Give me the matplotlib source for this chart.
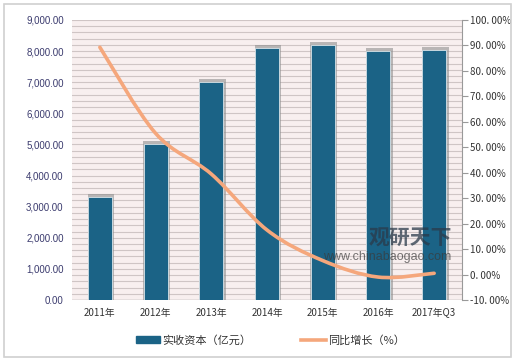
import numpy as np
import matplotlib.pyplot as plt
from matplotlib.path import Path
from matplotlib.patches import PathPatch, Rectangle
from matplotlib.lines import Line2D

plt.rcParams['font.family'] = ['Noto Sans CJK SC', 'DejaVu Sans']

# ___ datos
categorias = ['2011年', '2012年', '2013年', '2014年', '2015年', '2016年', '2017年Q3']
capital = [3310, 5005, 7000, 8090, 8200, 8010, 8040]      # 实收资本（亿元）
crecimiento = [89.3, 55.5, 39.5, 17.5, 5.5, -1.0, 0.5]    # 同比增长（%）

fig = plt.figure(figsize=(5.2, 3.64), dpi=100)
fig.patch.set_facecolor('white')
# marco de la figura
fig.add_artist(Rectangle((4 / 520, 7 / 364), 507 / 520, 353 / 364, transform=fig.transFigure,
                         fill=False, edgecolor='#d0d0d0', linewidth=1.2))

ax = fig.add_axes([72 / 520, 64 / 364, 390 / 520, 280 / 364])
ax.set_facecolor('#f8efef')
ax.set_xlim(-0.5, len(categorias) - 0.5)
ax.set_ylim(0, 9000)
ax.set_yticks(np.arange(0, 9001, 1000))
ax.set_yticklabels([f'{v:,.2f}' for v in np.arange(0, 9001, 1000)],
                   fontsize=7, color='#3b3b6e', family=['Liberation Sans', 'DejaVu Sans'])
for yy in np.arange(200, 9001, 200):
    ax.axhline(yy, color='#cfc5c5', linewidth=0.8, zorder=0)
ax.axhline(0, color='#a0a0a0', linewidth=1, zorder=1)

x = np.arange(len(categorias))
# sombra de las barras
ax.bar(x + 0.02, np.array(capital) + 100, width=0.48, color='#8f8f8f', alpha=0.6, zorder=2)
ax.bar(x, capital, width=0.43, color='#1b6386', edgecolor='#d8e4ea', linewidth=0.6, zorder=3)

ax.set_xticks(x)
ax.set_xticklabels(categorias, fontsize=7, color='#333333', family=['Noto Sans CJK SC'])
ax.tick_params(axis='both', length=0, pad=6)
for s in ax.spines.values():
    s.set_visible(False)

ax2 = ax.twinx()
ax2.set_ylim(-10, 100)
ax2.set_yticks(np.arange(-10, 101, 10))
ax2.set_yticklabels([f'{v:.2f}%'.replace('.', '. ') for v in np.arange(-10, 101, 10)],
                    fontsize=7, color='#333333', family=['Noto Sans CJK SC', 'DejaVu Sans'])
ax2.tick_params(axis='y', length=4, color='#999999', pad=2)
for s in ['top', 'left', 'bottom']:
    ax2.spines[s].set_visible(False)
ax2.spines['right'].set_color('#999999')

# linea suavizada (curvas de Bezier tipo Catmull-Rom)
pts = np.column_stack([x, crecimiento]).astype(float)
verts = [pts[0]]
codes = [Path.MOVETO]
t = 1 / 6
for i in range(len(pts) - 1):
    p0 = pts[i - 1] if i > 0 else pts[i]
    p1, p2 = pts[i], pts[i + 1]
    p3 = pts[i + 2] if i + 2 < len(pts) else pts[i + 1]
    verts += [p1 + (p2 - p0) * t, p2 - (p3 - p1) * t, p2]
    codes += [Path.CURVE4] * 3
ax2.add_patch(PathPatch(Path(verts, codes), fill=False, edgecolor='#f5a77c',
                        linewidth=2.6, capstyle='round', zorder=5))

# marca de agua
fig.text(0.79, 0.345, '观研天下', fontsize=15, color='#2a3a4a', alpha=0.75,
         ha='center', va='center', weight='bold')
fig.text(0.745, 0.295, 'www.chinabaogao.com', fontsize=9, color='#3a3a3a', alpha=0.7,
         ha='center', va='center', family=['Liberation Sans'])

# leyenda
handles = [Rectangle((0, 0), 1, 1, color='#1b6386'),
           Line2D([0], [0], color='#f5a77c', linewidth=2.6)]
fig.legend(handles, ['实收资本（亿元）', '同比增长（%）'], loc='center',
           bbox_to_anchor=(0.52, 24 / 364), ncol=2, frameon=False, fontsize=8,
           handlelength=2.2, handleheight=0.5, columnspacing=4.5, handletextpad=0.2,
           labelcolor='#333333')

fig.savefig('out.png', dpi=100)
